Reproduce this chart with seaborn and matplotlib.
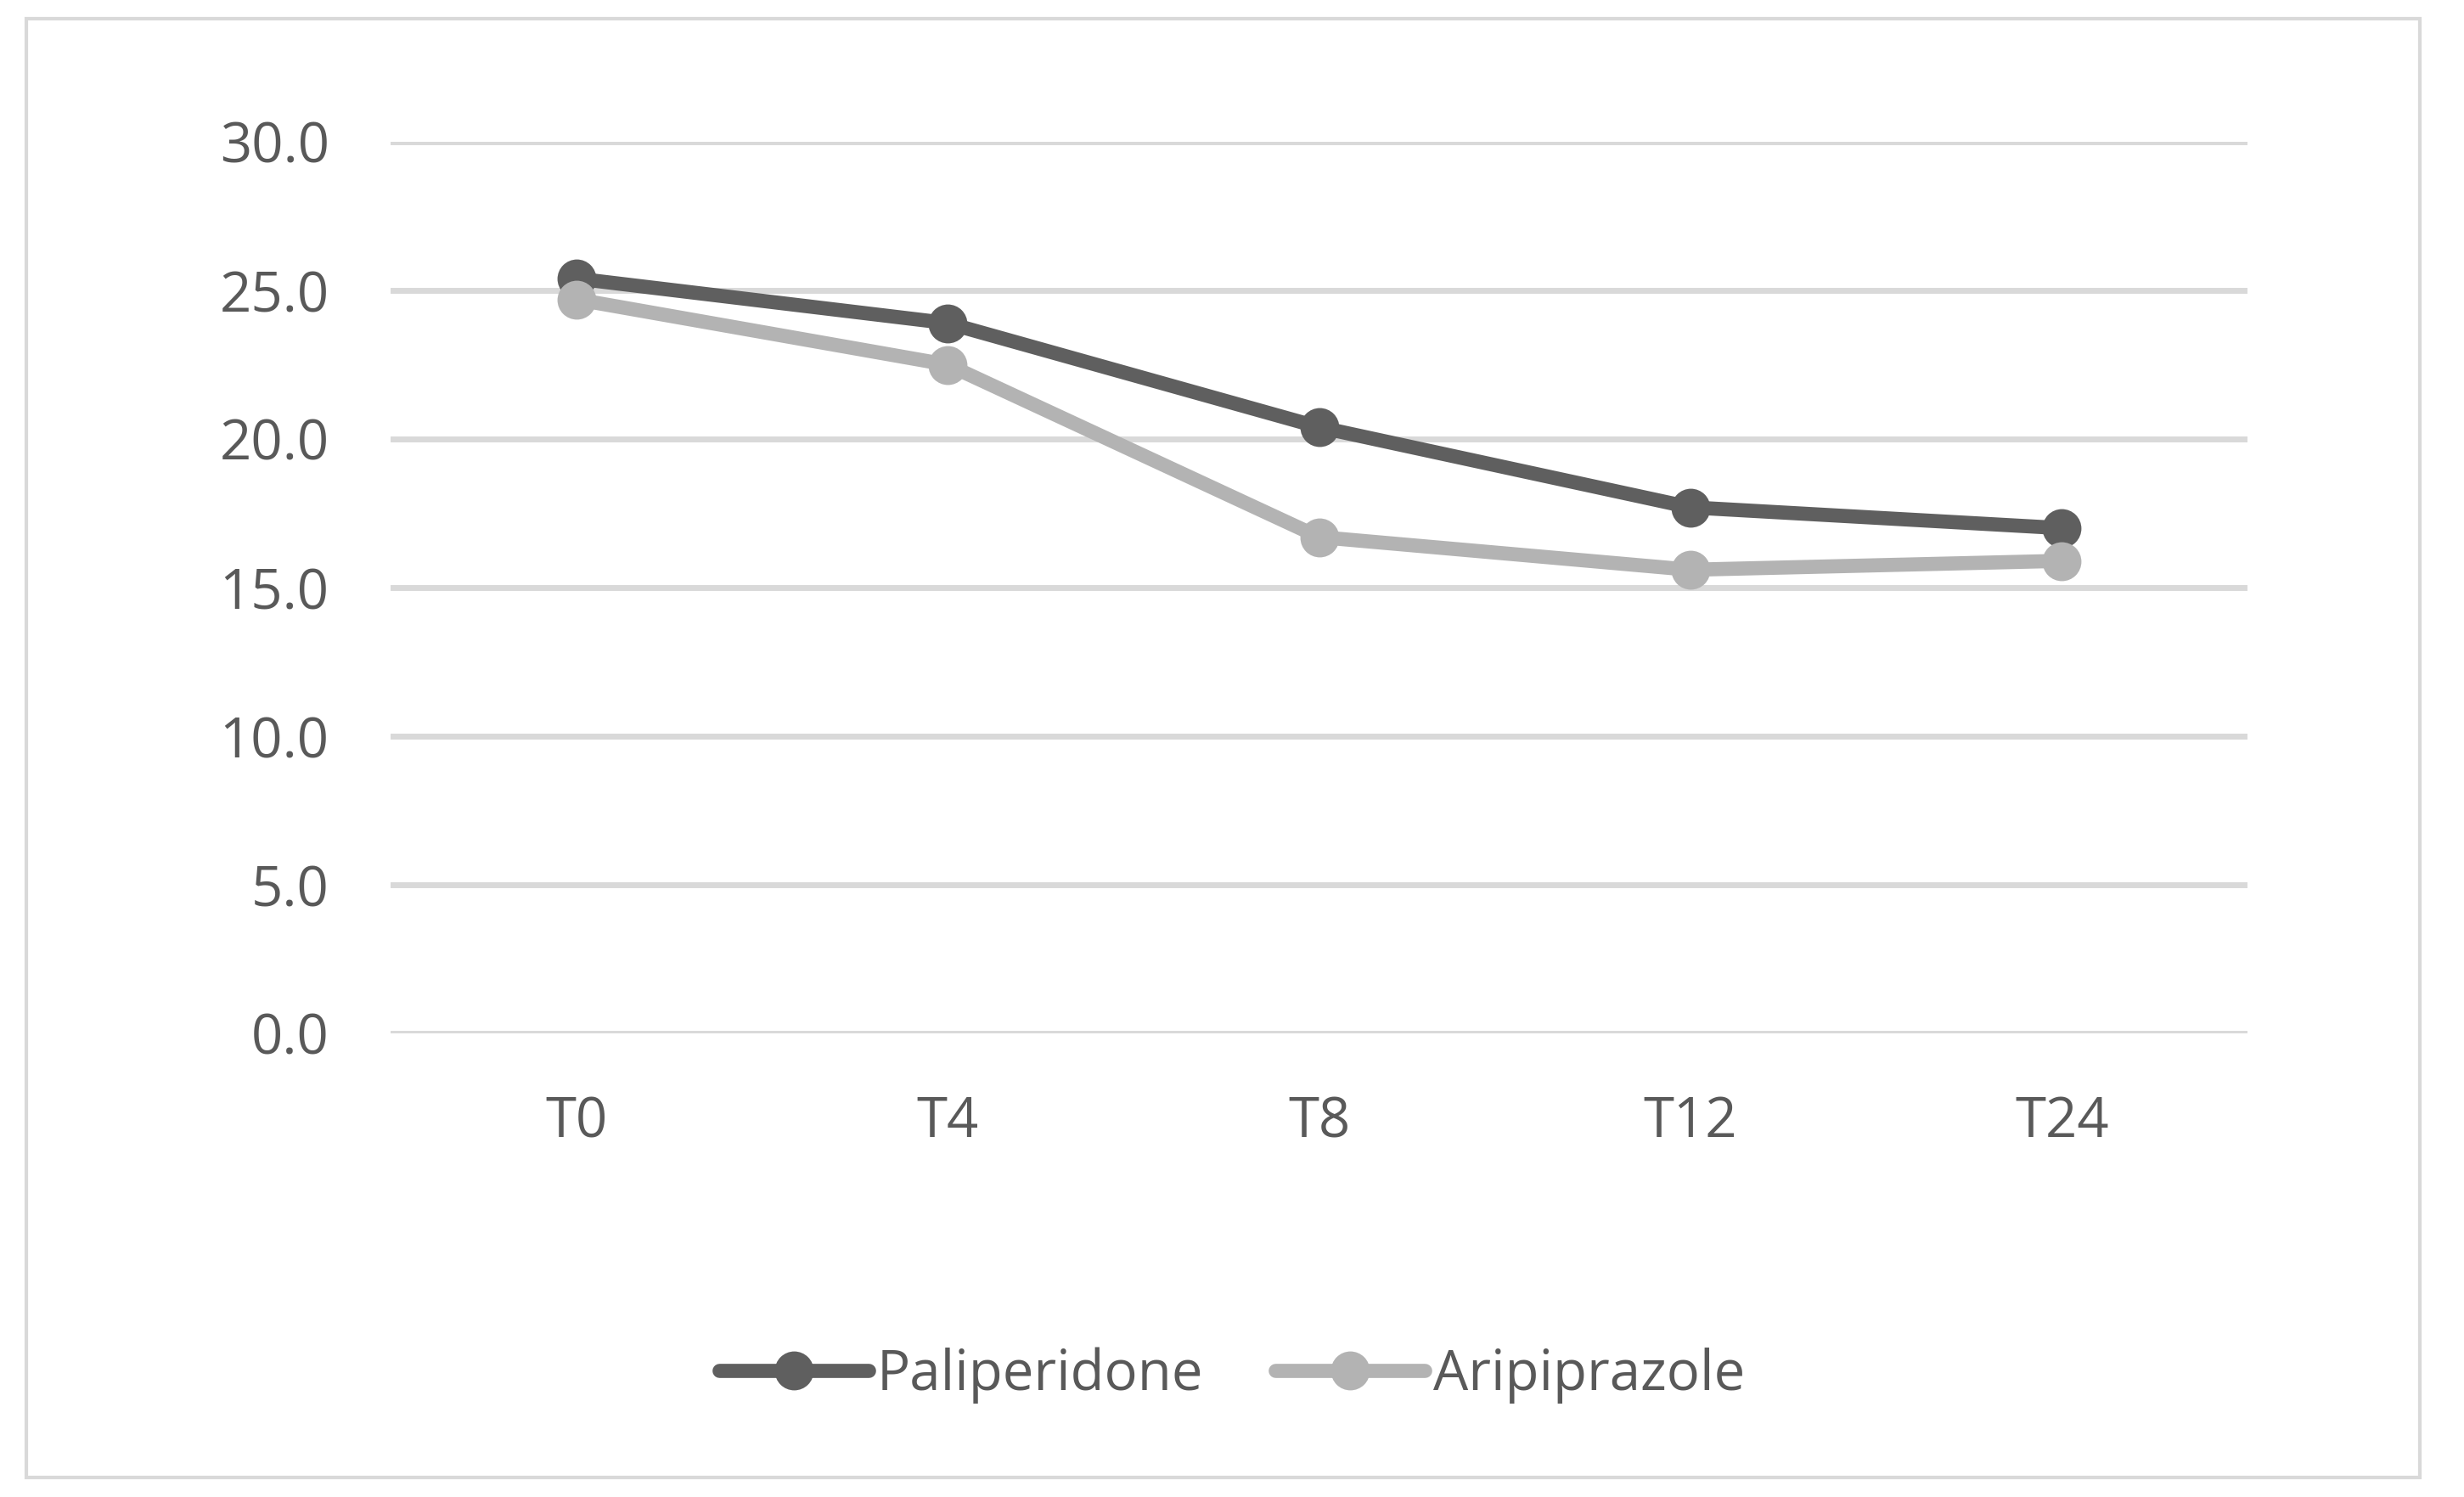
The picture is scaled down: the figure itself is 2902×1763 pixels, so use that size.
import matplotlib
matplotlib.use("Agg")
import matplotlib.pyplot as plt
import seaborn as sns
import pandas as pd
from matplotlib.patches import Rectangle

times = ["T0", "T4", "T8", "T12", "T24"]
paliperidone = [25.4, 23.9, 20.4, 17.7, 17.0]
aripiprazole = [24.7, 22.5, 16.7, 15.6, 15.9]
series_names = ["Paliperidone", "Aripiprazole"]
y_ticks = [0, 5, 10, 15, 20, 25, 30]

df = pd.DataFrame({
    "time": times * 2,
    "value": paliperidone + aripiprazole,
    "drug": [series_names[0]] * len(times) + [series_names[1]] * len(times),
})

sns.set_style("white")
plt.rcParams["font.family"] = ["Open Sans", "DejaVu Sans"]

W, H = 2902, 1763
fig = plt.figure(figsize=(W / 100, H / 100), dpi=100)
ax = fig.add_axes([460 / W, 1 - 1217 / H, (2647 - 460) / W, (1217 - 167) / H])

dark = "#5f5f5f"
light = "#b3b3b3"
text_c = "#595959"
grid_c = "#d9d9d9"

sns.lineplot(data=df, x="time", y="value", hue="drug", palette=[dark, light],
             marker="o", markersize=33, linewidth=12, markeredgewidth=0,
             sort=False, ax=ax, legend=True)

ax.set_xlim(-0.5, 4.5)
ax.set_ylim(0, 30)
ax.set_yticks(y_ticks)
ax.set_yticklabels([f"{v:.1f}" for v in y_ticks])
for y in y_ticks:
    ax.axhline(y, color=grid_c, linewidth=5, zorder=0)
ax.set_xlabel("")
ax.set_ylabel("")
for s in ax.spines.values():
    s.set_visible(False)
ax.tick_params(axis="both", length=0, labelsize=47, colors=text_c)
ax.tick_params(axis="y", pad=52)
ax.tick_params(axis="x", pad=52)

handles, labels = ax.get_legend_handles_labels()
ax.legend(handles, labels, loc="center", bbox_to_anchor=(0.5, 1 - 1620 / H),
          bbox_transform=fig.transFigure, ncol=2, frameon=False,
          fontsize=47, labelcolor=text_c, handlelength=2.7, handletextpad=0.15,
          columnspacing=1.3)

fig.patches.append(Rectangle((31 / W, 1 - 1740 / H), (2850 - 31) / W, (1740 - 22) / H,
                             transform=fig.transFigure, fill=False,
                             edgecolor=grid_c, linewidth=3))

fig.savefig("out.png", dpi=100, facecolor="white")
